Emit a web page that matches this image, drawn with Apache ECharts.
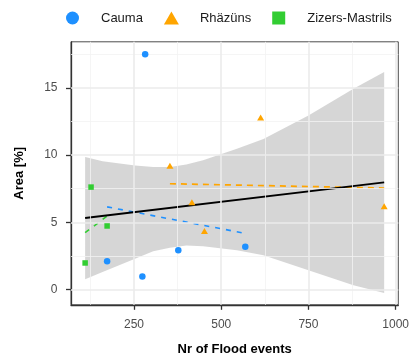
<!DOCTYPE html>
<html>
<head>
<meta charset="utf-8">
<script src="https://cdn.jsdelivr.net/npm/echarts@6/dist/echarts.min.js"></script>
<style>
  html, body { margin: 0; padding: 0; background: #fff; }
  #chart { width: 410px; height: 358px; }
</style>
</head>
<body>
<div id="chart"></div>
<script>
// Flood events vs. affected area, three sites
const caumaX = [282, 173, 274, 377, 569];
const caumaY = [17.5, 2.1, 0.97, 2.92, 3.19];
const rhazunsX = [353, 613, 416, 452, 967];
const rhazunsY = [9.2, 12.8, 6.5, 4.35, 6.19];
const zizersX = [127, 173, 110];
const zizersY = [7.62, 4.73, 1.98];

// Per-site linear fits (end points)
const caumaFitX = [173, 569];
const caumaFitY = [6.15, 4.18];
const rhazunsFitX = [353, 967];
const rhazunsFitY = [7.87, 7.55];
const zizersFitX = [110, 173];
const zizersFitY = [4.23, 5.47];

// Overall fit and its confidence band
const allFitX = [110, 967];
const allFitY = [5.32, 7.97];
const bandX = [110, 160, 253, 305, 353, 400, 448, 545, 621, 750, 879, 967];
const bandUpper = [9.85, 9.55, 9.23, 9.11, 9.12, 9.3, 9.61, 10.47, 11.2, 12.95, 14.93, 16.17];
const bandLower = [0.77, 1.31, 2.30, 2.85, 3.12, 3.27, 3.22, 2.92, 2.55, 1.43, 0.32, -0.25];

// Axis ticks and grid lines
const xTicks = [250, 500, 750, 1000];
const xMinor = [125, 375, 625, 875];
const yTicks = [0, 5, 10, 15];
const yMinor = [2.5, 7.5, 12.5, 17.5];

const siteNames = ['Cauma', 'Rhäzüns', 'Zizers-Mastrils'];
const siteColors = ['#1E90FF', '#FFA500', '#32CD32'];

const FONT = 'Liberation Sans, Arial, Helvetica, sans-serif';

const zip = (xs, ys) => xs.map((x, i) => [x, ys[i]]);

const minorStyle = { color: '#f2f2f2', width: 0.8, type: 'solid' };
const majorStyle = { color: '#ebebeb', width: 1.6, type: 'solid' };
const gridLines = [];
xMinor.forEach(v => gridLines.push({ xAxis: v, lineStyle: minorStyle }));
yMinor.forEach(v => gridLines.push({ yAxis: v, lineStyle: minorStyle }));
xTicks.forEach(v => gridLines.push({ xAxis: v, lineStyle: majorStyle }));
yTicks.forEach(v => gridLines.push({ yAxis: v, lineStyle: majorStyle }));

const plainNumber = v => String(v);

const chart = echarts.init(document.getElementById('chart'), null, { renderer: 'canvas' });

chart.setOption({
  animation: false,
  backgroundColor: '#ffffff',
  textStyle: { fontFamily: FONT },
  grid: {
    left: 71, right: 11.7, top: 41.8, bottom: 53.2,
    outerBoundsMode: 'none', containLabel: false,
    show: true, borderColor: '#4d4d4d', borderWidth: 1, backgroundColor: 'transparent'
  },
  legend: {
    data: [
      { name: siteNames[0], icon: 'circle' },
      { name: siteNames[1], icon: 'triangle' },
      { name: siteNames[2], icon: 'path://M0,0L10,0L10,10L0,10Z' }
    ],
    left: 66, top: 11.5, padding: 0,
    itemWidth: 15, itemHeight: 13, itemGap: 21,
    symbolKeepAspect: true,
    textStyle: { fontFamily: FONT, fontSize: 13, color: '#1a1a1a', padding: [0, 0, 0, 16] }
  },
  xAxis: {
    type: 'value', min: 69.5, max: 1007.5,
    name: 'Nr of Flood events', nameLocation: 'middle', nameGap: 38.5,
    nameTextStyle: { fontFamily: FONT, fontSize: 13, fontWeight: 'bold', color: '#000' },
    axisLine: { show: true, onZero: false, lineStyle: { color: '#333', width: 1.3 } },
    axisTick: { show: true, customValues: xTicks, length: 5, lineStyle: { color: '#333', width: 1.3 } },
    axisLabel: { customValues: xTicks, formatter: plainNumber, margin: 13.5, fontFamily: FONT, fontSize: 12, color: '#4d4d4d' },
    splitLine: { show: false }
  },
  yAxis: {
    type: 'value', min: -1.13, max: 18.42,
    name: 'Area [%]', nameLocation: 'middle', nameGap: 45,
    nameTextStyle: { fontFamily: FONT, fontSize: 13, fontWeight: 'bold', color: '#000' },
    axisLine: { show: true, onZero: false, lineStyle: { color: '#333', width: 1.3 } },
    axisTick: { show: true, customValues: yTicks, length: 5, lineStyle: { color: '#333', width: 1.3 } },
    axisLabel: { customValues: yTicks, formatter: plainNumber, margin: 13.5, fontFamily: FONT, fontSize: 12, color: '#4d4d4d' },
    splitLine: { show: false }
  },
  series: [
    {
      name: 'grid', type: 'line', data: [], silent: true, z: 0,
      markLine: { silent: true, symbol: ['none', 'none'], label: { show: false },
        animation: false, lineStyle: { type: 'solid' }, data: gridLines }
    },
    {
      name: 'band', type: 'custom', silent: true, z: 1,
      data: [[bandX[0], bandLower[0]]],
      renderItem: function (params, api) {
        const pts = [];
        for (let i = 0; i < bandX.length; i++) pts.push(api.coord([bandX[i], bandUpper[i]]));
        for (let i = bandX.length - 1; i >= 0; i--) pts.push(api.coord([bandX[i], bandLower[i]]));
        return { type: 'polygon', shape: { points: pts }, style: { fill: 'rgba(153,153,153,0.4)' } };
      }
    },
    {
      name: 'fit-cauma', type: 'line', data: zip(caumaFitX, caumaFitY), symbol: 'none', z: 3,
      lineStyle: { color: siteColors[0], width: 1.6, type: [5, 6] }
    },
    {
      name: 'fit-rhazuns', type: 'line', data: zip(rhazunsFitX, rhazunsFitY), symbol: 'none', z: 3,
      lineStyle: { color: siteColors[1], width: 1.7, type: [6, 5] }
    },
    {
      name: 'fit-zizers', type: 'line', data: zip(zizersFitX, zizersFitY), symbol: 'none', z: 3,
      lineStyle: { color: siteColors[2], width: 1.6, type: [5, 6] }
    },
    {
      name: 'fit-all', type: 'line', data: zip(allFitX, allFitY), symbol: 'none', z: 4,
      lineStyle: { color: '#000', width: 2 }
    },
    {
      name: siteNames[0], type: 'scatter', data: zip(caumaX, caumaY), z: 5,
      symbol: 'circle', symbolSize: 6.5, itemStyle: { color: siteColors[0], opacity: 1 }
    },
    {
      name: siteNames[1], type: 'scatter', data: zip(rhazunsX, rhazunsY), z: 5,
      symbol: 'triangle', symbolSize: [7, 6], itemStyle: { color: siteColors[1], opacity: 1 }
    },
    {
      name: siteNames[2], type: 'scatter', data: zip(zizersX, zizersY), z: 5,
      symbol: 'rect', symbolSize: 5.5, itemStyle: { color: siteColors[2], opacity: 1 }
    }
  ]
});
</script>
</body>
</html>
